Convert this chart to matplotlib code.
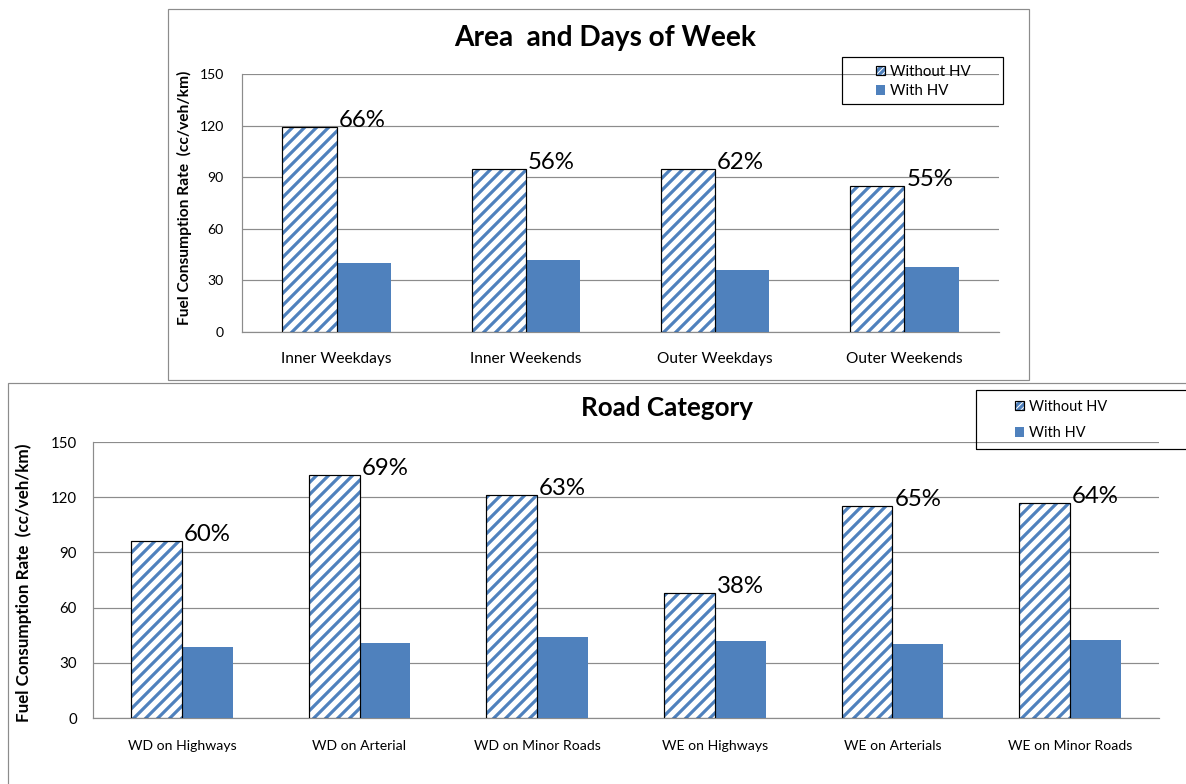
import numpy as np
import matplotlib
matplotlib.use("Agg")
import matplotlib.pyplot as plt
from matplotlib.patches import Patch, Rectangle
from matplotlib.legend_handler import HandlerTuple

# ---- data -------------------------------------------------------------
area_categories = ["Inner Weekdays", "Inner Weekends", "Outer Weekdays", "Outer Weekends"]
area_without_hv = [119, 95, 95, 85]
area_with_hv = [40, 42, 36, 38]
area_reduction = ["66%", "56%", "62%", "55%"]

road_categories = ["WD on Highways", "WD on Arterial", "WD on Minor Roads",
                   "WE on Highways", "WE on Arterials", "WE on Minor Roads"]
road_without_hv = [96, 132, 121, 68, 115, 117]
road_with_hv = [38.5, 40.5, 44, 42, 40, 42.5]
road_reduction = ["60%", "69%", "63%", "38%", "65%", "64%"]

y_ticks = [0, 30, 60, 90, 120, 150]
series_names = ["Without HV", "With HV"]
y_title = "Fuel Consumption Rate  (cc/veh/km)"

# ---- style ------------------------------------------------------------
W, H, DPI = 1186, 784, 72
BLUE = "#4F81BD"
GRID = "#8c8c8c"
plt.rcParams["font.family"] = ["Lato", "DejaVu Sans"]
plt.rcParams["hatch.linewidth"] = 3.2

fig = plt.figure(figsize=(W / DPI, H / DPI), dpi=DPI)
fig.patch.set_facecolor("white")


def fx(px):
    return px / W


def fy(py):
    return 1 - py / H


def fig_rect(x0, y0, x1, y1, **kw):
    fig.add_artist(Rectangle((fx(x0), fy(y1)), fx(x1) - fx(x0), fy(y0) - fy(y1),
                             transform=fig.transFigure, fill=False, **kw))


def bar_panel(box, cats, without, with_, labels, fs_tick_y, fs_tick_x,
              pad_y, pad_x, fs_pct):
    left, top, right, bottom = box
    ax = fig.add_axes([fx(left), fy(bottom), fx(right) - fx(left), fy(top) - fy(bottom)])
    x = np.arange(len(cats))
    w = 0.286
    # hatched series: stripes first, black outline on top
    ax.bar(x - w / 2, without, w, facecolor="white", edgecolor=BLUE, hatch="//",
           linewidth=0, zorder=3)
    ax.bar(x - w / 2, without, w, fill=False, edgecolor="black", linewidth=1.2, zorder=4)
    ax.bar(x + w / 2, with_, w, color=BLUE, linewidth=0, zorder=3)
    for xi, v, lab in zip(x, without, labels):
        ax.annotate(lab, (xi, v), xytext=(2, 0), textcoords="offset points",
                    ha="left", va="baseline", fontsize=fs_pct, zorder=5)
    ax.set_xlim(-0.5, len(cats) - 0.5)
    ax.set_ylim(0, 150)
    ax.set_yticks(y_ticks)
    ax.set_xticks(x)
    ax.set_xticklabels(cats)
    ax.yaxis.grid(True, color=GRID, linewidth=1.2, zorder=0)
    ax.set_axisbelow(True)
    for s in ("top", "right"):
        ax.spines[s].set_visible(False)
    for s in ("left", "bottom"):
        ax.spines[s].set_color(GRID)
        ax.spines[s].set_linewidth(1.2)
    ax.tick_params(axis="y", length=0, pad=pad_y, labelsize=fs_tick_y)
    ax.tick_params(axis="x", length=0, pad=pad_x, labelsize=fs_tick_x)
    return ax


def legend_block(x_handle, y_mid, fs, spacing):
    hatched = (Patch(facecolor="white", edgecolor=BLUE, hatch="////", linewidth=0),
               Patch(fill=False, edgecolor="black", linewidth=1.2))
    solid = Patch(facecolor=BLUE, linewidth=0)
    fig.legend([hatched, solid], series_names,
               handler_map={tuple: HandlerTuple(ndivide=1, pad=0)},
               loc="center left", bbox_to_anchor=(fx(x_handle), fy(y_mid)),
               bbox_transform=fig.transFigure, frameon=False, fontsize=fs,
               handlelength=0.6, handleheight=0.6, handletextpad=0.35,
               labelspacing=spacing, borderpad=0, borderaxespad=0)


# ---- upper panel: area and days of week -------------------------------
fig_rect(168, 9, 1029, 380, edgecolor=GRID, linewidth=1.2)
bar_panel((242, 74, 999, 332), area_categories, area_without_hv, area_with_hv,
          area_reduction, 14, 15.5, 18, 20, 24)
fig.text(fx(605), fy(46), "Area  and Days of Week", ha="center", va="baseline",
         fontsize=28, fontweight="bold")
fig.text(fx(184), fy(198), y_title, rotation=90, ha="center", va="center",
         fontsize=15.5, fontweight="bold")
fig_rect(842, 57, 1003, 104, edgecolor="black", linewidth=1.2)
legend_block(876, 81.5, 15, 0.35)

# ---- lower panel: road category ---------------------------------------
fig_rect(8, 383, 1220, 820, edgecolor=GRID, linewidth=1.2)
bar_panel((93, 442, 1159, 718), road_categories, road_without_hv, road_with_hv,
          road_reduction, 15, 14, 16, 22, 24)
fig.text(fx(667), fy(416), "Road Category", ha="center", va="baseline",
         fontsize=26, fontweight="bold")
fig.text(fx(24), fy(583), y_title, rotation=90, ha="center", va="center",
         fontsize=17, fontweight="bold")
fig_rect(976, 390, 1220, 449, edgecolor="black", linewidth=1.2)
legend_block(1015, 420, 14.5, 0.85)

fig.savefig("out.png", dpi=DPI, facecolor="white")
